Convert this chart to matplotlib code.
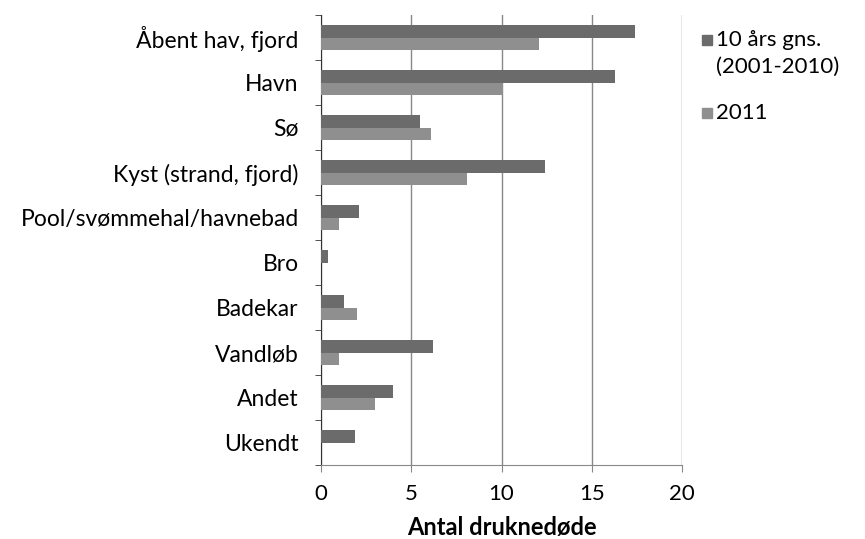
import numpy as np
import matplotlib.pyplot as plt
from matplotlib.patches import Rectangle

plt.rcParams['font.family'] = ['Lato', 'DejaVu Sans']

categories = ['Åbent hav, fjord', 'Havn', 'Sø', 'Kyst (strand, fjord)',
              'Pool/svømmehal/havnebad', 'Bro', 'Badekar', 'Vandløb', 'Andet', 'Ukendt']
avg_10yr = [17.4, 16.3, 5.5, 12.4, 2.1, 0.4, 1.3, 6.2, 4.0, 1.9]
year_2011 = [12.1, 10.1, 6.1, 8.1, 1.0, 0, 2.0, 1.0, 3.0, 0]
xticks = [0, 5, 10, 15, 20]

dark = '#6b6b6b'
light = '#8f8f8f'

W, H = 865, 539
fig = plt.figure(figsize=(8.65, 5.39), dpi=100)
ax = fig.add_axes([321 / W, 1 - 465 / H, 361 / W, 450 / H])

y = np.arange(len(categories))
h = 0.27
ax.barh(y - h / 2, avg_10yr, height=h, color=dark, zorder=3)
ax.barh(y + h / 2, year_2011, height=h, color=light, zorder=3)

ax.set_ylim(len(categories) - 0.5, -0.5)
ax.set_xlim(0, 20)
ax.set_xticks(xticks)
ax.set_xticklabels([str(t) for t in xticks], fontsize=16)
ax.set_yticks(y)
ax.set_yticklabels(categories, fontsize=16.5)
ax.tick_params(axis='y', length=0, pad=16)
ax.set_yticks(np.arange(len(categories) + 1) - 0.5, minor=True)
ax.tick_params(axis='y', which='minor', length=4, color='#333333')
ax.tick_params(axis='x', length=5, color='#888888', pad=9)
ax.grid(axis='x', color='#888888', linewidth=1, zorder=0)

for s in ['top', 'right']:
    ax.spines[s].set_visible(False)
ax.spines['left'].set_color('#333333')
ax.spines['bottom'].set_color('#888888')

ax.set_xlabel('Antal druknedøde', fontsize=17, fontweight='bold', va='center')
ax.xaxis.set_label_coords(0.5, -63 / 450)

# legend drawn by hand so the line spacing matches
legend_items = [(dark, ['10 års gns.', '(2001-2010)'], 40), (light, ['2011'], 113)]
for color, lines, ypx in legend_items:
    fig.patches.append(Rectangle((702 / W, 1 - (ypx + 5) / H), 10 / W, 10 / H,
                                 color=color, transform=fig.transFigure))
    for i, line in enumerate(lines):
        fig.text(716 / W, 1 - (ypx + 27 * i) / H, line, fontsize=16, va='center')

plt.savefig('out.png', dpi=100)
